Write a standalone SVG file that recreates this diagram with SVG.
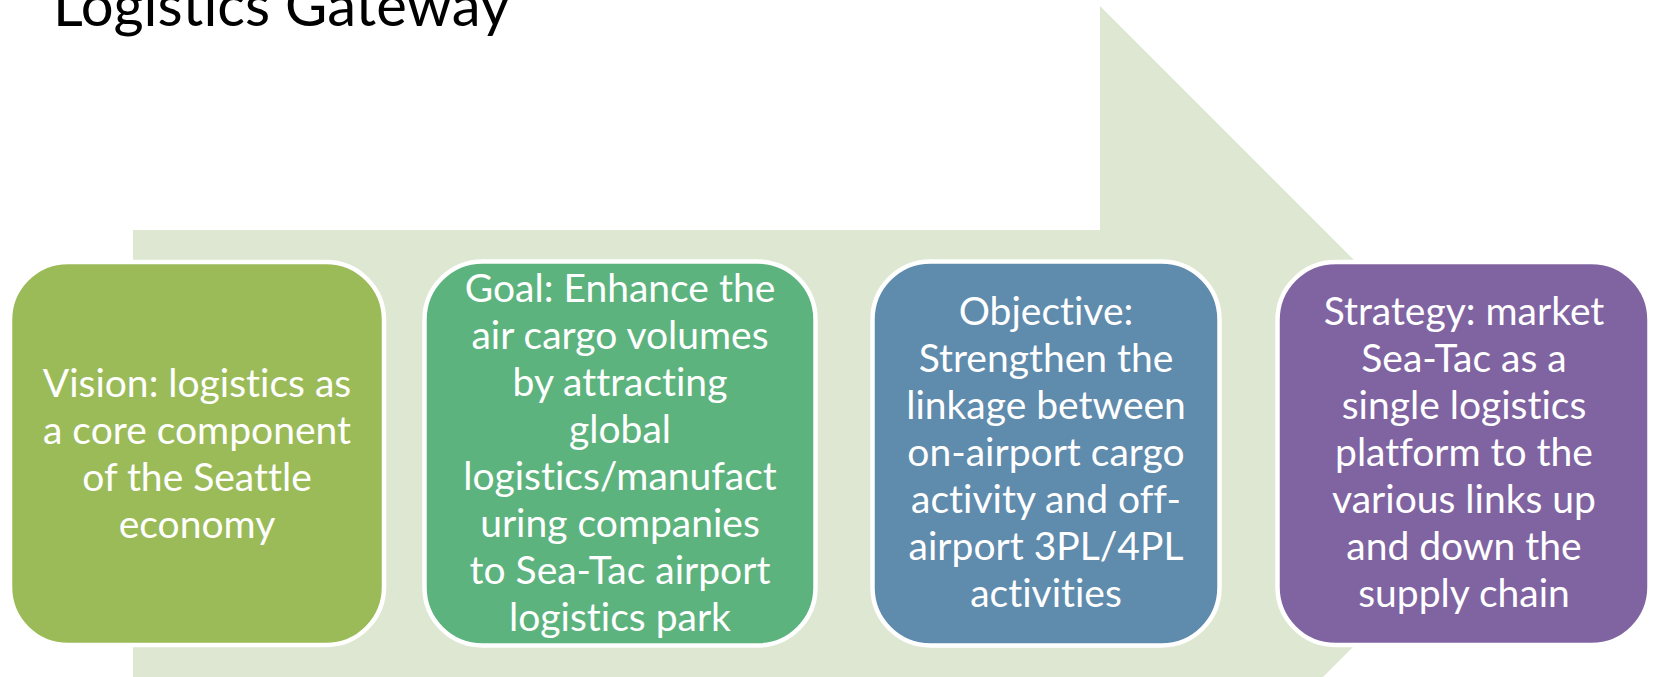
<svg xmlns="http://www.w3.org/2000/svg" width="1653" height="677" viewBox="0 0 1653 677">
<style>
.box{stroke:#ffffff;stroke-width:4.5}
.t{font-family:Lato,"Open Sans","Liberation Sans",sans-serif;font-size:39px;fill:#ffffff;text-anchor:middle;font-variant-ligatures:none;font-feature-settings:"liga" 0}
.title{font-family:Lato,"Open Sans","Liberation Sans",sans-serif;font-size:58px;fill:#000000;font-variant-ligatures:none}
</style>
<rect width="1653" height="677" fill="#ffffff"/>
<g id="title"><text class="title" x="53" y="26">Logistics Gateway</text></g>
<g id="arrow"><polygon points="133,230 1100,230 1100,6 1547,453 1100,900 1100,680 133,680" fill="#dee7d1"/></g>
<g id="vision">
<rect class="box" x="10" y="262" width="374" height="383" rx="58" fill="#9bbb59"/>
<text class="t"><tspan x="197" y="397">Vision: logistics as</tspan><tspan x="197" y="444">a core component</tspan><tspan x="197" y="491">of the Seattle</tspan><tspan x="197" y="538">economy</tspan></text>
</g>
<g id="goal">
<rect class="box" x="424.5" y="261.5" width="391" height="384" rx="58" fill="#5db37e"/>
<text class="t"><tspan x="620" y="302">Goal: Enhance the</tspan><tspan x="620" y="349">air cargo volumes</tspan><tspan x="620" y="396">by attracting</tspan><tspan x="620" y="443">global</tspan><tspan x="620" y="490">logistics/manufact</tspan><tspan x="620" y="537">uring companies</tspan><tspan x="620" y="584">to Sea-Tac airport</tspan><tspan x="620" y="631">logistics park</tspan></text>
</g>
<g id="objective">
<rect class="box" x="872.5" y="261.5" width="347" height="384" rx="58" fill="#5f8bad"/>
<text class="t"><tspan x="1046" y="325">Objective:</tspan><tspan x="1046" y="372">Strengthen the</tspan><tspan x="1046" y="419">linkage between</tspan><tspan x="1046" y="466">on-airport cargo</tspan><tspan x="1046" y="513">activity and off-</tspan><tspan x="1046" y="560">airport 3PL/4PL</tspan><tspan x="1046" y="607">activities</tspan></text>
</g>
<g id="strategy">
<rect class="box" x="1277.5" y="262" width="372" height="383" rx="58" fill="#8064a2"/>
<text class="t"><tspan x="1464" y="325">Strategy: market</tspan><tspan x="1464" y="372">Sea-Tac as a</tspan><tspan x="1464" y="419">single logistics</tspan><tspan x="1464" y="466">platform to the</tspan><tspan x="1464" y="513">various links up</tspan><tspan x="1464" y="560">and down the</tspan><tspan x="1464" y="607">supply chain</tspan></text>
</g>
<g id="connectors"></g>
</svg>
